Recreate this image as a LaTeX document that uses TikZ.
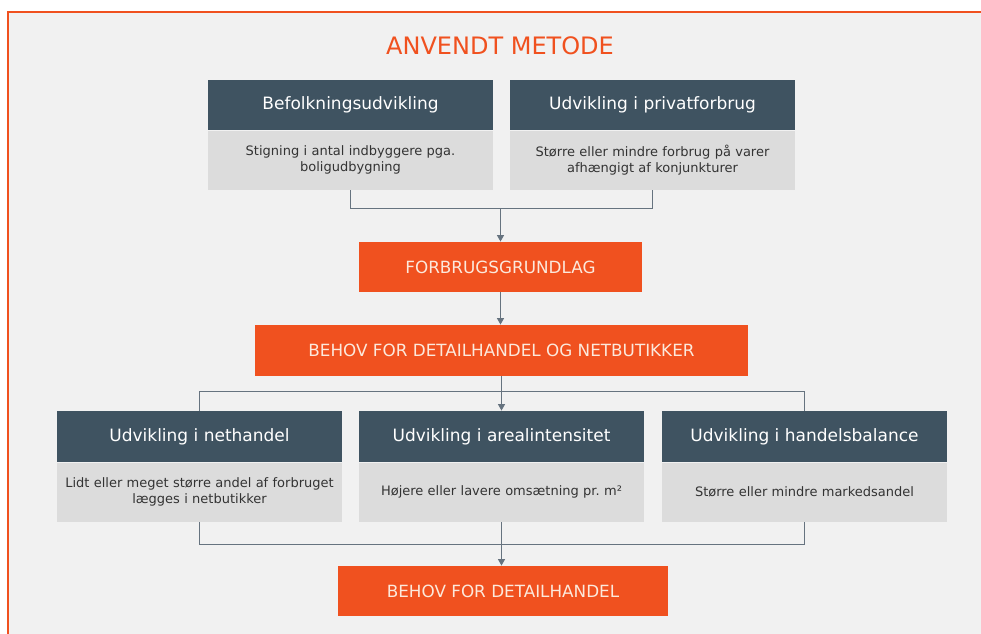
\documentclass[tikz,border=0pt]{standalone}
\usepackage{fontspec}
\setmainfont{DejaVu Sans}
\usetikzlibrary{arrows.meta,positioning,calc}
\usepackage{xcolor}
\definecolor{Orange}{HTML}{F0511F}
\definecolor{Slate}{HTML}{3F5361}
\definecolor{Paper}{HTML}{F1F1F1}
\definecolor{Shade}{HTML}{DCDCDC}
\definecolor{Wire}{HTML}{66737F}
\definecolor{Cream}{HTML}{FCE9DC}

\begin{document}
\begin{tikzpicture}[
        %Environment Cfg.
        x=0.5pt, y=-0.5pt,
        >={Triangle[length=3.2pt,width=3.4pt]},%from arrows.meta
        %Environment Styles.
        hBox/.style={
            rectangle,
            inner sep=0pt,
            minimum height=25pt,
            minimum width=142.5pt,
            fill=Slate,
            text=white,
            font=\fontsize{8.5}{10}\selectfont
        },
        dBox/.style={
            rectangle,
            inner sep=0pt,
            minimum height=29.5pt,
            minimum width=142.5pt,
            text width=136pt,
            align=center,
            fill=Shade,
            text=black!80,
            font=\fontsize{6.5}{8}\selectfont
        },
        oBox/.style={
            rectangle,
            inner sep=0pt,
            minimum height=25pt,
            fill=Orange,
            text=Cream,
            font=\fontsize{8.4}{10}\selectfont
        },
        wire/.style={draw=Wire, line width=0.7pt},
    ]
    %Page and frame.
    \fill[white] (0,0) rectangle (981,633);
    \clip (0,0) rectangle (981,633);
    \draw[Orange, line width=1pt, fill=Paper] (8,12) rectangle (990,645);

    \node[text=Orange, font=\fontsize{12}{14}\selectfont] (TITLE) at (500,46) {ANVENDT METODE};

    %Top row: header + description.
    \node[hBox] (HEAD-1) at (350.5,105) {Befolkningsudvikling};
    \node[dBox, below=0pt of HEAD-1] (DESC-1) {Stigning i antal indbyggere pga.\\ boligudbygning};
    \node[hBox] (HEAD-2) at (652.5,105) {Udvikling i privatforbrug};
    \node[dBox, below=0pt of HEAD-2] (DESC-2) {Større eller mindre forbrug på varer\\ afhængigt af konjunkturer};

    \node[oBox, minimum width=141.5pt] (BASE) at (500.5,267) {FORBRUGSGRUNDLAG};
    \node[oBox, minimum width=246.5pt, minimum height=25.5pt] (NEED) at (501.5,350.5) {BEHOV FOR DETAILHANDEL OG NETBUTIKKER};

    %Bottom row: header + description.
    \node[hBox, minimum height=25.5pt] (HEAD-A) at (199.5,436.5) {Udvikling i nethandel};
    \node[dBox, below=0pt of HEAD-A] (DESC-A) {Lidt eller meget større andel af forbruget\\ lægges i netbutikker};
    \node[hBox, minimum height=25.5pt] (HEAD-B) at (501.5,436.5) {Udvikling i arealintensitet};
    \node[dBox, below=0pt of HEAD-B] (DESC-B) {Højere eller lavere omsætning pr.\ m²};
    \node[hBox, minimum height=25.5pt] (HEAD-C) at (804.5,436.5) {Udvikling i handelsbalance};
    \node[dBox, below=0pt of HEAD-C] (DESC-C) {Større eller mindre markedsandel};

    \node[oBox, minimum width=165pt] (RETAIL) at (503,591) {BEHOV FOR DETAILHANDEL};

    %Connectors.
    \coordinate (J-1) at ($(DESC-1.south)+(0,18)$);
    \coordinate (J-2) at ($(HEAD-A.north)+(0,-19)$);
    \coordinate (J-3) at ($(DESC-A.south)+(0,22)$);
    \draw[wire] (DESC-1.south) -- (J-1) -| (DESC-2.south);
    \draw[wire,->] (BASE.north |- J-1) -- (BASE.north);
    \draw[wire,->] (BASE.south) -- (BASE.south |- NEED.north);
    \draw[wire] (HEAD-A.north) -- (J-2) -| (HEAD-C.north);
    \draw[wire,->] (NEED.south -| HEAD-B.north) -- (HEAD-B.north);
    \draw[wire] (DESC-A.south) -- (J-3) -| (DESC-C.south);
    \draw[wire,->] (DESC-B.south) -- (DESC-B.south |- RETAIL.north);
\end{tikzpicture}
\end{document}
